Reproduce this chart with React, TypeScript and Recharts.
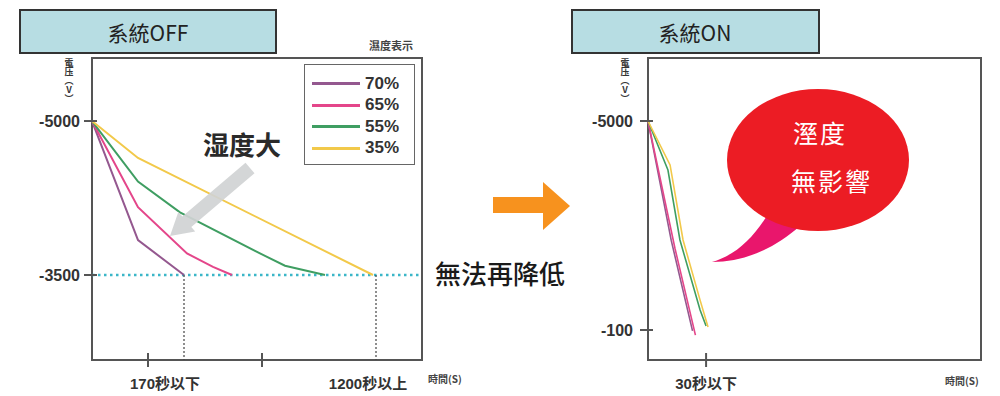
import React from 'react';
import { LineChart, Line, XAxis, YAxis, ReferenceLine, ReferenceArea, Legend } from 'recharts';

// series (humidity)
const SERIES_NAMES = ['70%', '65%', '55%', '35%'];
const SERIES_COLORS = ['#94588f', '#e4468a', '#3f9e62', '#f2c94a'];

// 系統OFF: schematic time units, voltage (V)
const OFF_T_70 = [0, 46, 92];
const OFF_V_70 = [-5000, -3840, -3500];
const OFF_T_65 = [0, 46, 95, 121, 140];
const OFF_V_65 = [-5000, -4160, -3710, -3580, -3500];
const OFF_T_55 = [0, 46, 88, 168, 193, 233];
const OFF_V_55 = [-5000, -4410, -4110, -3710, -3590, -3500];
const OFF_T_35 = [0, 46, 281];
const OFF_V_35 = [-5000, -4640, -3500];

const OFF_Y_TICKS = [-5000, -3500];
const OFF_X_MARKS = [56, 170];
const OFF_LIMIT_T = [92, 284];
const OFF_LIMIT_LABELS = ['170秒以下', '1200秒以上'];
const OFF_FLOOR = -3500;

// 系統ON: seconds, voltage (V)
const ON_T_70 = [0, 6, 12, 23];
const ON_V_70 = [-5000, -3600, -2200, -80];
const ON_T_65 = [0, 7, 14, 24.5];
const ON_V_65 = [-5000, -3500, -2000, 20];
const ON_T_55 = [0, 10.3, 16.5, 26.9, 30];
const ON_V_55 = [-5000, -3850, -2210, -570, -195];
const ON_T_35 = [0, 11.4, 18.1, 26.9, 31];
const ON_V_35 = [-5000, -3970, -2210, -800, -170];

const ON_Y_TICKS = [-5000, -100];
const ON_X_MARKS = [30];
const ON_X_LABELS = ['30秒以下'];

const zip = (ts: number[], vs: number[]) => ts.map((t, i) => ({ t, v: vs[i] }));

const OFF_SERIES = [zip(OFF_T_70, OFF_V_70), zip(OFF_T_65, OFF_V_65), zip(OFF_T_55, OFF_V_55), zip(OFF_T_35, OFF_V_35)];
const ON_SERIES = [zip(ON_T_70, ON_V_70), zip(ON_T_65, ON_V_65), zip(ON_T_55, ON_V_55), zip(ON_T_35, ON_V_35)];

const OFF_X_DOMAIN: [number, number] = [0, 330];
const OFF_Y_DOMAIN: [number, number] = [-5614, -2672];
const ON_X_DOMAIN: [number, number] = [0, 172];
const ON_Y_DOMAIN: [number, number] = [-6477, 603];

const FRAME = '#555';
const NUM_FONT = '"Liberation Sans", "Noto Sans CJK TC", sans-serif';
const CJK_FONT = '"Noto Sans CJK TC", sans-serif';

const makeYTick = (gap: number) => (props: any) => {
  const { x, y, payload } = props;
  return (
    <g>
      <line x1={x - 8} x2={x + 5} y1={y} y2={y} stroke={FRAME} strokeWidth={2} />
      <text x={x - gap} y={y} dy={5.5} textAnchor="end" fontFamily={NUM_FONT} fontWeight="bold" fontSize={16} fill="#333">
        {payload.value}
      </text>
    </g>
  );
};

const makeXTick = (marks: number[], labelAt: number[], labels: string[], shifts: number[]) => (props: any) => {
  const { x, y, payload } = props;
  const li = labelAt.indexOf(payload.value);
  return (
    <g>
      {marks.includes(payload.value) && (
        <line x1={x} x2={x} y1={y - 7} y2={y + 7} stroke={FRAME} strokeWidth={2} />
      )}
      {li >= 0 && (
        <text x={x + shifts[li]} y={y + 29} textAnchor="middle" fontFamily={NUM_FONT} fontWeight="bold" fontSize={15} fill="#333">
          {labels[li]}
        </text>
      )}
    </g>
  );
};

const renderLegend = (props: any) => {
  const payload = [...(props.payload || [])].sort(
    (a: any, b: any) => SERIES_NAMES.indexOf(a.value) - SERIES_NAMES.indexOf(b.value)
  );
  return (
    <div style={{ width: 111, height: 101, boxSizing: 'border-box', border: '1.5px solid #666', background: '#fff', paddingTop: 8 }}>
      {payload.map((entry: any) => (
        <div key={entry.value} style={{ display: 'flex', alignItems: 'center', height: 21.5 }}>
          <span style={{ display: 'inline-block', width: 48, height: 3, marginLeft: 7, background: entry.color }} />
          <span style={{ marginLeft: 5, fontFamily: NUM_FONT, fontWeight: 'bold', fontSize: 17, color: '#333' }}>{entry.value}</span>
        </div>
      ))}
    </div>
  );
};

// vertical axis title 電压(V)
const VLabel = ({ x }: { x: number }) => (
  <text
    x={x}
    y={58}
    fontFamily={CJK_FONT}
    fontWeight="bold"
    fontSize={9}
    fill="#333"
    style={{ writingMode: 'vertical-rl', textOrientation: 'upright' } as any}
  >
    電压︵V︶
  </text>
);

export default function App() {
  return (
    <div style={{ position: 'absolute', left: 0, top: 0, width: 1000, height: 396, background: '#fff', overflow: 'hidden' }}>
      <div style={{ position: 'absolute', left: 0, top: 0 }}>
        <LineChart width={440} height={396} margin={{ top: 58, right: 18, bottom: 6, left: 32 }}>
          <XAxis
            dataKey="t"
            type="number"
            domain={OFF_X_DOMAIN}
            ticks={[...OFF_X_MARKS, ...OFF_LIMIT_T].sort((a, b) => a - b)}
            interval={0}
            height={30}
            tickSize={0}
            tickMargin={0}
            axisLine={false}
            tickLine={false}
            tick={makeXTick(OFF_X_MARKS, OFF_LIMIT_T, OFF_LIMIT_LABELS, [-19, -8])}
          />
          <YAxis
            type="number"
            domain={OFF_Y_DOMAIN}
            reversed
            ticks={OFF_Y_TICKS}
            width={60}
            tickSize={0}
            tickMargin={0}
            axisLine={false}
            tickLine={false}
            tick={makeYTick(12)}
          />
          <ReferenceArea x1={OFF_X_DOMAIN[0]} x2={OFF_X_DOMAIN[1]} y1={OFF_Y_DOMAIN[0]} y2={OFF_Y_DOMAIN[1]} fill="none" stroke={FRAME} strokeWidth={2} />
          <ReferenceLine y={OFF_FLOOR} stroke="#3bb6c8" strokeWidth={2.5} strokeDasharray="2.5 3.5" />
          {OFF_LIMIT_T.map((t) => (
            <ReferenceLine
              key={t}
              segment={[{ x: t, y: OFF_FLOOR }, { x: t, y: OFF_Y_DOMAIN[1] }]}
              stroke="#444"
              strokeWidth={1.2}
              strokeDasharray="2 2"
            />
          ))}
          {OFF_SERIES.map((d, i) => (
            <Line
              key={SERIES_NAMES[i]}
              name={SERIES_NAMES[i]}
              data={d}
              dataKey="v"
              type="linear"
              stroke={SERIES_COLORS[i]}
              strokeWidth={2}
              dot={false}
              isAnimationActive={false}
            />
          ))}
          <Legend
            layout="horizontal"
            verticalAlign="middle"
            align="center"
            content={renderLegend}
            wrapperStyle={{ left: 304, top: 64, width: 111, height: 101 }}
          />
        </LineChart>
      </div>

      <div style={{ position: 'absolute', left: 560, top: 0 }}>
        <LineChart width={440} height={396} margin={{ top: 58, right: 19, bottom: 6, left: 28 }}>
          <XAxis
            dataKey="t"
            type="number"
            domain={ON_X_DOMAIN}
            ticks={ON_X_MARKS}
            interval={0}
            height={30}
            tickSize={0}
            tickMargin={0}
            axisLine={false}
            tickLine={false}
            tick={makeXTick(ON_X_MARKS, ON_X_MARKS, ON_X_LABELS, [0])}
          />
          <YAxis
            type="number"
            domain={ON_Y_DOMAIN}
            reversed
            ticks={ON_Y_TICKS}
            width={60}
            tickSize={0}
            tickMargin={0}
            axisLine={false}
            tickLine={false}
            tick={makeYTick(15)}
          />
          <ReferenceArea x1={ON_X_DOMAIN[0]} x2={ON_X_DOMAIN[1]} y1={ON_Y_DOMAIN[0]} y2={ON_Y_DOMAIN[1]} fill="none" stroke={FRAME} strokeWidth={2} />
          {ON_SERIES.map((d, i) => (
            <Line
              key={SERIES_NAMES[i]}
              name={SERIES_NAMES[i]}
              data={d}
              dataKey="v"
              type="linear"
              stroke={SERIES_COLORS[i]}
              strokeWidth={1.6}
              dot={false}
              isAnimationActive={false}
            />
          ))}
        </LineChart>
      </div>

      <svg width={1000} height={396} style={{ position: 'absolute', left: 0, top: 0, pointerEvents: 'none' }}>
        {/* title boxes */}
        <rect x={20} y={10} width={256} height={43} fill="#b7dde3" stroke="#333" strokeWidth={2} />
        <text x={148} y={32} dominantBaseline="central" textAnchor="middle" fontFamily={CJK_FONT} fontSize={21} fill="#222">系統OFF</text>
        <rect x={572} y={10} width={247} height={43} fill="#b7dde3" stroke="#333" strokeWidth={2} />
        <text x={695} y={32} dominantBaseline="central" textAnchor="middle" fontFamily={CJK_FONT} fontSize={21} fill="#222">系統ON</text>

        <text x={391} y={45} dominantBaseline="central" textAnchor="middle" fontFamily={CJK_FONT} fontWeight="bold" fontSize={11} fill="#444">濕度表示</text>
        <VLabel x={69} />
        <VLabel x={625} />

        {/* humidity arrow */}
        <polygon points="254.5,173.3 191.3,227 195.2,231.6 170,236 178.4,211.8 182.3,216.4 245.5,162.7" fill="#d0d3d4" opacity={0.92} />
        <text x={242} y={143} dominantBaseline="central" textAnchor="middle" fontFamily={CJK_FONT} fontWeight="bold" fontSize={26} fill="#2a2a2a">湿度大</text>

        <text x={435} y={272} dominantBaseline="central" fontFamily={CJK_FONT} fontWeight={500} fontSize={26} fill="#1a1a1a">無法再降低</text>
        <text x={428} y={378} dominantBaseline="central" fontFamily={CJK_FONT} fontWeight="bold" fontSize={10} fill="#444">時間(S)</text>
        <text x={945} y={380} dominantBaseline="central" fontFamily={CJK_FONT} fontWeight="bold" fontSize={10} fill="#444">時間(S)</text>

        {/* orange arrow */}
        <polygon points="493,197 543,197 543,182 570,206 543,230 543,213 493,213" fill="#f7921e" />

        {/* speech bubble */}
        <path d="M 768 214 C 752 240, 735 255, 712 262 C 745 262, 775 248, 800 226 Z" fill="#e9166c" />
        <ellipse cx={818} cy={160} rx={91} ry={71} fill="#ec1c24" />
        <text x={793} y={132} dominantBaseline="central" fontFamily={CJK_FONT} fontSize={25} letterSpacing={2} fill="#fff">溼度</text>
        <text x={791} y={180} dominantBaseline="central" fontFamily={CJK_FONT} fontSize={25} letterSpacing={2} fill="#fff">無影響</text>
      </svg>
    </div>
  );
}
